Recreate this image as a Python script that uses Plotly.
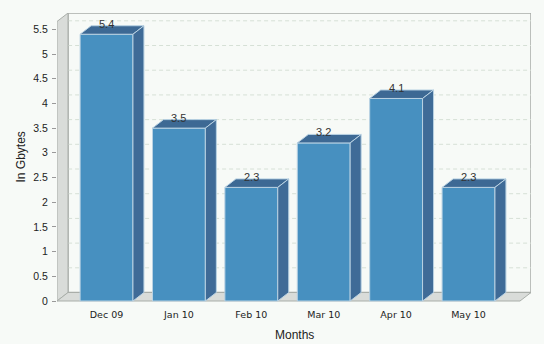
import plotly.graph_objects as go

categories = ["Dec 09", "Jan 10", "Feb 10", "Mar 10", "Apr 10", "May 10"]
values = [5.4, 3.5, 2.3, 3.2, 4.1, 2.3]
value_labels = ["5.4", "3.5", "2.3", "3.2", "4.1", "2.3"]
y_ticks = [0, 0.5, 1, 1.5, 2, 2.5, 3, 3.5, 4, 4.5, 5, 5.5]
y_tick_text = ["0", "0.5", "1", "1.5", "2", "2.5", "3", "3.5", "4", "4.5", "5", "5.5"]

# geometry (data units)
XR = [-0.684, 5.863]
YR = [-0.020, 5.830]
DX = 0.152   # 3D depth along x (category units)
DY = 0.172   # 3D depth along y (value units)
BW = 0.73    # bar width

FRONT = "#4790c0"
TOP = "#3d6994"
SIDE = "#3f6b97"
EDGE = "#b9d2e3"

fig = go.Figure()
idx = list(range(len(categories)))

fig.add_trace(go.Bar(x=idx, y=values, width=BW, marker=dict(color=FRONT, line=dict(color=EDGE, width=1)),
                     hoverinfo="skip", showlegend=False))

for i, v in zip(idx, values):
    l, r = i - BW / 2, i + BW / 2
    # top face
    fig.add_trace(go.Scatter(x=[l, l + DX, r + DX, r, l], y=[v, v + DY, v + DY, v, v], mode="lines",
                             fill="toself", fillcolor=TOP, line=dict(color=EDGE, width=1),
                             hoverinfo="skip", showlegend=False))
    # side face
    fig.add_trace(go.Scatter(x=[r, r, r + DX, r + DX, r], y=[0, v, v + DY, DY, 0], mode="lines",
                             fill="toself", fillcolor=SIDE, line=dict(color=EDGE, width=1),
                             hoverinfo="skip", showlegend=False))

shapes = []
# back wall
shapes.append(dict(type="rect", xref="x", yref="y", x0=XR[0] + DX, x1=XR[1], y0=DY, y1=YR[1],
                   line=dict(color="#a8aca8", width=1.5), fillcolor="rgba(0,0,0,0)", layer="below"))
# gridlines (left wall diagonal + back wall)
for t in y_ticks[1:]:
    shapes.append(dict(type="path", xref="x", yref="y",
                       path=f"M {XR[0]},{t} L {XR[0] + DX},{t + DY} L {XR[1]},{t + DY}",
                       line=dict(color="#d6e0d6", width=1, dash="4px,3px"), layer="below"))
# left wall
shapes.append(dict(type="path", xref="x", yref="y",
                   path=f"M {XR[0]},0 L {XR[0]},{YR[1] - DY} L {XR[0] + DX},{YR[1]} L {XR[0] + DX},{DY} Z",
                   fillcolor="#d9dcd9", line=dict(color="#a9aea9", width=1), layer="below"))
# floor
shapes.append(dict(type="path", xref="x", yref="y",
                   path=f"M {XR[0]},0 L {XR[0] + DX},{DY} L {XR[1]},{DY} L {XR[1] - DX},0 Z",
                   fillcolor="#d9dcd9", line=dict(color="#a9aea9", width=1), layer="below"))

annotations = []
for i, v, s in zip(idx, values, value_labels):
    annotations.append(dict(x=i, y=v + DY, text=s, showarrow=False, xanchor="center", yanchor="bottom",
                            yshift=-6, font=dict(family="Liberation Sans, Arial", size=11, color="#333333")))
annotations.append(dict(xref="paper", yref="paper", x=0.5, y=-0.0, yshift=-33, text="Months",
                        showarrow=False, yanchor="middle",
                        font=dict(family="Liberation Sans, Arial", size=12, color="#222222")))
annotations.append(dict(xref="paper", yref="paper", x=0, xshift=-37, y=0.5, text="In Gbytes", textangle=-90,
                        showarrow=False, xanchor="center",
                        font=dict(family="Liberation Sans, Arial", size=12, color="#222222")))

fig.update_layout(
    width=544, height=344,
    margin=dict(l=57, r=13, t=13, b=42),
    paper_bgcolor="#f7faf7", plot_bgcolor="rgba(0,0,0,0)",
    shapes=shapes, annotations=annotations, showlegend=False,
    xaxis=dict(range=XR, tickmode="array", tickvals=idx, ticktext=categories, showgrid=False,
               zeroline=False, showline=False, ticks="", ticklabelstandoff=5,
               tickfont=dict(family="DejaVu Sans, Verdana", size=9.5, color="#222222")),
    yaxis=dict(range=YR, tickmode="array", tickvals=y_ticks, ticktext=y_tick_text, showgrid=False,
               zeroline=False, showline=False, ticks="outside", ticklen=4, tickcolor="#999999",
               ticklabelstandoff=2,
               tickfont=dict(family="Liberation Sans, Arial", size=10.5, color="#222222")),
)

fig.write_html("out.html")
